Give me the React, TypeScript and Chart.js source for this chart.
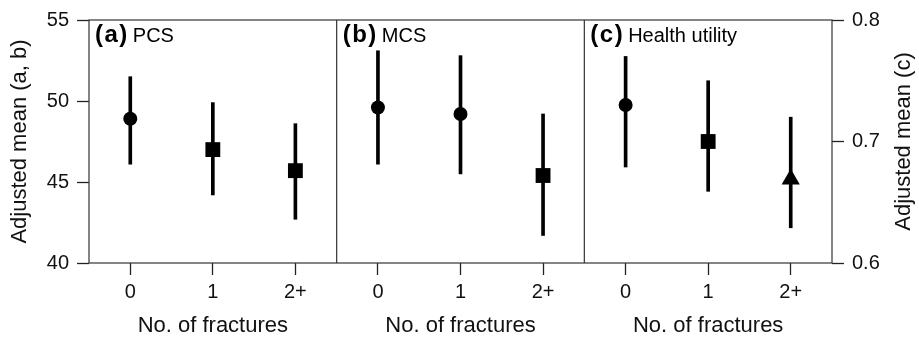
import React, { useEffect, useRef } from "react";
import { Chart, registerables } from "chart.js";
Chart.register(...registerables);

const FONT = "'Liberation Sans', Arial, Helvetica, sans-serif";

const categories = ["0", "1", "2+"];
const panelTags = ["(a)", "(b)", "(c)"];
const panelNames = ["PCS", "MCS", "Health utility"];
const xTitle = "No. of fractures";
const leftTitle = "Adjusted mean (a, b)";
const rightTitle = "Adjusted mean (c)";

const pcsMean = [48.9, 47.0, 45.7];
const pcsLow = [46.1, 44.2, 42.7];
const pcsHigh = [51.5, 49.9, 48.6];
const pcsShapes = ["circle", "rect", "rect"];

const mcsMean = [49.6, 49.2, 45.4];
const mcsLow = [46.1, 45.5, 41.7];
const mcsHigh = [53.1, 52.8, 49.2];
const mcsShapes = ["circle", "circle", "rect"];

const utilMean = [0.73, 0.7, 0.669];
const utilLow = [0.679, 0.659, 0.629];
const utilHigh = [0.77, 0.75, 0.72];
const utilShapes = ["circle", "rect", "triangle"];

const leftTicks = [40, 45, 50, 55];
const rightTicks = [0.6, 0.7, 0.8];

const panels = [
  { mean: pcsMean, low: pcsLow, high: pcsHigh, shapes: pcsShapes, axis: "y" },
  { mean: mcsMean, low: mcsLow, high: mcsHigh, shapes: mcsShapes, axis: "y" },
  { mean: utilMean, low: utilLow, high: utilHigh, shapes: utilShapes, axis: "y2" },
];

const panelPlugin = {
  id: "panelDecor",
  afterDraw(chart: any) {
    const { ctx, chartArea: a, scales } = chart;
    const x = scales.x;
    const n = categories.length;
    ctx.save();
    ctx.strokeStyle = "#333";
    ctx.lineWidth = 1.2;
    ctx.strokeRect(a.left, a.top, a.right - a.left, a.bottom - a.top);
    for (let p = 1; p < panels.length; p++) {
      const px = x.getPixelForValue(p * n - 0.5);
      ctx.beginPath();
      ctx.moveTo(px, a.top);
      ctx.lineTo(px, a.bottom);
      ctx.stroke();
    }
    ctx.fillStyle = "#000";
    ctx.textBaseline = "middle";
    ctx.textAlign = "left";
    panelTags.forEach((tag, p) => {
      const left = x.getPixelForValue(p * n - 0.5) + 6;
      ctx.font = `bold 24px ${FONT}`;
      (ctx as any).letterSpacing = "1.5px";
      ctx.fillText(tag, left, a.top + 15.5);
      const w = ctx.measureText(tag).width;
      (ctx as any).letterSpacing = "0px";
      ctx.font = `20px ${FONT}`;
      ctx.fillText(panelNames[p], left + w + 4, a.top + 16);
    });
    // x-axis titles, one per panel, under the middle category
    ctx.fillStyle = "#111";
    ctx.textAlign = "center";
    ctx.font = `22px ${FONT}`;
    for (let p = 0; p < panels.length; p++) {
      const cx = x.getPixelForValue(p * n + (n - 1) / 2);
      ctx.fillText(xTitle, cx, a.bottom + 63);
    }
    const r = scales.y2;
    ctx.translate(r.right - 15, (a.top + a.bottom) / 2);
    ctx.rotate(-Math.PI / 2);
    ctx.fillText(rightTitle, 0, 0);
    ctx.restore();
  },
};

export default function App() {
  const ref = useRef<HTMLCanvasElement | null>(null);

  useEffect(() => {
    if (!ref.current) return;
    Chart.defaults.font.family = FONT;
    const positions: number[] = [];
    const datasets: any[] = [];
    panels.forEach((pn, p) => {
      const xs = pn.mean.map((_, i) => p * categories.length + i);
      xs.forEach((v) => positions.push(v));
      datasets.push({
        type: "scatter",
        data: pn.mean.map((m, i) => ({ x: xs[i], y: m })),
        pointStyle: pn.shapes,
        pointRadius: pn.shapes.map((s) => (s === "circle" ? 7 : 10.5)),
        backgroundColor: "#000",
        borderColor: "#000",
        borderWidth: 0,
        showLine: false,
        yAxisID: pn.axis,
        order: 0,
      });
      datasets.push({
        type: "bar",
        data: pn.mean.map((_, i) => ({ x: xs[i], y: [pn.low[i], pn.high[i]] })),
        backgroundColor: "#000",
        borderWidth: 0,
        barThickness: 3,
        grouped: false,
        yAxisID: pn.axis,
        order: 1,
      });
    });

    const tickGrid = {
      drawOnChartArea: false,
      drawTicks: true,
      tickLength: 12,
      tickColor: "#222",
      tickWidth: 1.3,
      offset: false,
    };

    const chart = new Chart(ref.current, {
      type: "bar",
      data: { datasets },
      options: {
        animation: false,
        responsive: true,
        maintainAspectRatio: false,
        layout: { padding: { top: 20, left: 0, right: 0, bottom: 0 } },
        plugins: { legend: { display: false }, tooltip: { enabled: false } },
        scales: {
          x: {
            type: "linear",
            min: -0.5,
            max: panels.length * categories.length - 0.5,
            offset: false,
            afterBuildTicks: (s: any) => {
              s.ticks = positions.map((v) => ({ value: v }));
            },
            afterFit: (s: any) => {
              s.height = 74;
            },
            grid: tickGrid,
            border: { display: false },
            ticks: {
              color: "#111",
              font: { size: 20 },
              padding: 5,
              autoSkip: false,
              maxRotation: 0,
              callback: (v: any) => categories[Math.round(v) % categories.length],
            },
          },
          y: {
            type: "linear",
            position: "left",
            min: 40,
            max: 55,
            afterBuildTicks: (s: any) => {
              s.ticks = leftTicks.map((v) => ({ value: v }));
            },
            afterFit: (s: any) => {
              s.width = 89;
            },
            grid: tickGrid,
            border: { display: false },
            ticks: { color: "#111", font: { size: 20 }, padding: 8 },
            title: {
              display: true,
              text: leftTitle,
              color: "#111",
              font: { size: 22 },
              padding: { top: 7, bottom: 0 },
            },
          },
          y2: {
            type: "linear",
            position: "right",
            min: 0.6,
            max: 0.8,
            afterBuildTicks: (s: any) => {
              s.ticks = rightTicks.map((v) => ({ value: v }));
            },
            afterFit: (s: any) => {
              s.width = 87;
            },
            grid: tickGrid,
            border: { display: false },
            ticks: {
              color: "#111",
              font: { size: 20 },
              padding: 8,
              callback: (v: any) => Number(v).toFixed(1),
            },
          },
        },
      },
      plugins: [panelPlugin],
    } as any);
    return () => chart.destroy();
  }, []);

  return (
    <div style={{ position: "absolute", left: 0, top: 0, width: 919, height: 337 }}>
      <canvas ref={ref} />
    </div>
  );
}
